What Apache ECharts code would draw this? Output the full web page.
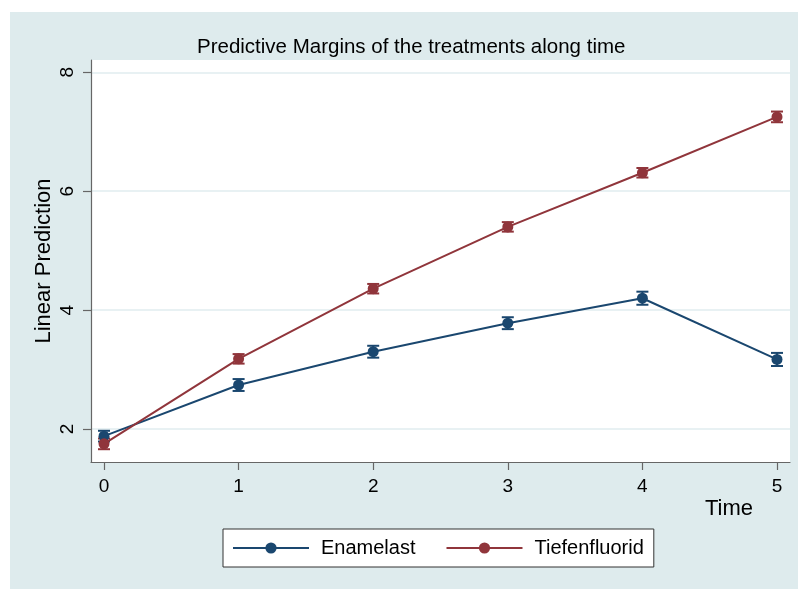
<!DOCTYPE html>
<html>
<head>
<meta charset="utf-8">
<script src="https://cdn.jsdelivr.net/npm/echarts@6/dist/echarts.min.js"></script>
<style>
html,body{margin:0;padding:0;background:#ffffff;}
#chart{position:absolute;left:10px;top:12px;width:788px;height:577px;}
</style>
</head>
<body>
<div id="chart"></div>
<script>
// ---- data ----
var timePoints = [0, 1, 2, 3, 4, 5];
var xTicks = [0, 1, 2, 3, 4, 5];
var yTicks = [2, 4, 6, 8];
var enamelastMean = [1.88, 2.74, 3.30, 3.78, 4.20, 3.17];
var enamelastLow  = [1.79, 2.64, 3.20, 3.68, 4.09, 3.06];
var enamelastHigh = [1.97, 2.84, 3.40, 3.88, 4.31, 3.28];
var tiefenMean = [1.75, 3.18, 4.36, 5.40, 6.31, 7.25];
var tiefenLow  = [1.66, 3.10, 4.28, 5.32, 6.23, 7.16];
var tiefenHigh = [1.84, 3.26, 4.44, 5.48, 6.39, 7.34];
var seriesNames = ['Enamelast', 'Tiefenfluorid'];
var titleText = 'Predictive Margins of the treatments along time';
var xTitle = 'Time';
var yTitle = 'Linear Prediction';

var colors = ['#1a476f', '#90353b'];
var FONT = '"Liberation Sans", Arial, Helvetica, sans-serif';

function pairs(xs, ys) { return xs.map(function (x, i) { return [x, ys[i]]; }); }
function ciData(xs, lo, hi) { return xs.map(function (x, i) { return [x, lo[i], hi[i]]; }); }

function errorBar(color) {
  return function (params, api) {
    var x = api.value(0);
    var pLo = api.coord([x, api.value(1)]);
    var pHi = api.coord([x, api.value(2)]);
    var hw = 6;
    var st = { stroke: color, lineWidth: 2 };
    return {
      type: 'group',
      children: [
        { type: 'line', shape: { x1: pLo[0], y1: pLo[1], x2: pHi[0], y2: pHi[1] }, style: st },
        { type: 'line', shape: { x1: pLo[0] - hw, y1: pLo[1], x2: pLo[0] + hw, y2: pLo[1] }, style: st },
        { type: 'line', shape: { x1: pHi[0] - hw, y1: pHi[1], x2: pHi[0] + hw, y2: pHi[1] }, style: st }
      ]
    };
  };
}

var chart = echarts.init(document.getElementById('chart'), null, { renderer: 'canvas' });
chart.setOption({
  backgroundColor: '#deebed',
  animation: false,
  textStyle: { fontFamily: FONT },
  title: {
    text: titleText,
    left: 187, top: 25, padding: 0,
    textStyle: { fontFamily: FONT, fontSize: 20.5, fontWeight: 'normal', color: '#000' }
  },
  legend: {
    data: seriesNames,
    left: 213, top: 517,
    orient: 'horizontal',
    backgroundColor: '#ffffff',
    borderColor: '#333333', borderWidth: 1,
    padding: [9, 10, 9, 9],
    itemWidth: 76, itemHeight: 14, itemGap: 30,
    textStyle: { fontFamily: FONT, fontSize: 20, color: '#000', padding: [0, 0, 0, 7] }
  },
  grid: {
    left: 81, top: 48, right: 8, bottom: 127,
    show: true, backgroundColor: '#ffffff', borderWidth: 0
  },
  xAxis: {
    type: 'value',
    min: -0.0966, max: 5.0966,
    name: xTitle,
    nameLocation: 'end',
    nameGap: -37,
    nameMoveOverlap: false,
    nameTextStyle: { fontFamily: FONT, fontSize: 22, color: '#000', align: 'right', verticalAlign: 'top', padding: [36, 0, 0, 0] },
    axisLine: { show: true, onZero: false, lineStyle: { color: '#666', width: 1.2 } },
    axisTick: { show: true, customValues: xTicks, length: 8, lineStyle: { color: '#666', width: 1.2 } },
    axisLabel: { customValues: xTicks, fontFamily: FONT, fontSize: 19, color: '#000', margin: 15 },
    splitLine: { show: false }
  },
  yAxis: {
    type: 'value',
    min: 1.445, max: 8.207,
    name: yTitle,
    nameLocation: 'middle',
    nameRotate: 90,
    nameGap: 36,
    nameMoveOverlap: false,
    nameTextStyle: { fontFamily: FONT, fontSize: 22, color: '#000' },
    axisLine: { show: true, onZero: false, lineStyle: { color: '#666', width: 1.2 } },
    axisTick: { show: true, customValues: yTicks, length: 8, lineStyle: { color: '#666', width: 1.2 } },
    axisLabel: { customValues: yTicks, rotate: 90, fontFamily: FONT, fontSize: 19, color: '#000', margin: 14 },
    splitLine: { show: true, lineStyle: { color: '#e1ecef', width: 1.5 } }
  },
  series: [
    {
      name: 'Enamelast CI', type: 'custom', renderItem: errorBar(colors[0]),
      data: ciData(timePoints, enamelastLow, enamelastHigh), encode: { x: 0, y: [1, 2] }, z: 2
    },
    {
      name: 'Tiefenfluorid CI', type: 'custom', renderItem: errorBar(colors[1]),
      data: ciData(timePoints, tiefenLow, tiefenHigh), encode: { x: 0, y: [1, 2] }, z: 2
    },
    {
      name: seriesNames[0], type: 'line', data: pairs(timePoints, enamelastMean),
      symbol: 'circle', symbolSize: 11, color: colors[0],
      lineStyle: { color: colors[0], width: 2 }, itemStyle: { color: colors[0] }, z: 3
    },
    {
      name: seriesNames[1], type: 'line', data: pairs(timePoints, tiefenMean),
      symbol: 'circle', symbolSize: 11, color: colors[1],
      lineStyle: { color: colors[1], width: 2 }, itemStyle: { color: colors[1] }, z: 3
    }
  ]
});
</script>
</body>
</html>
